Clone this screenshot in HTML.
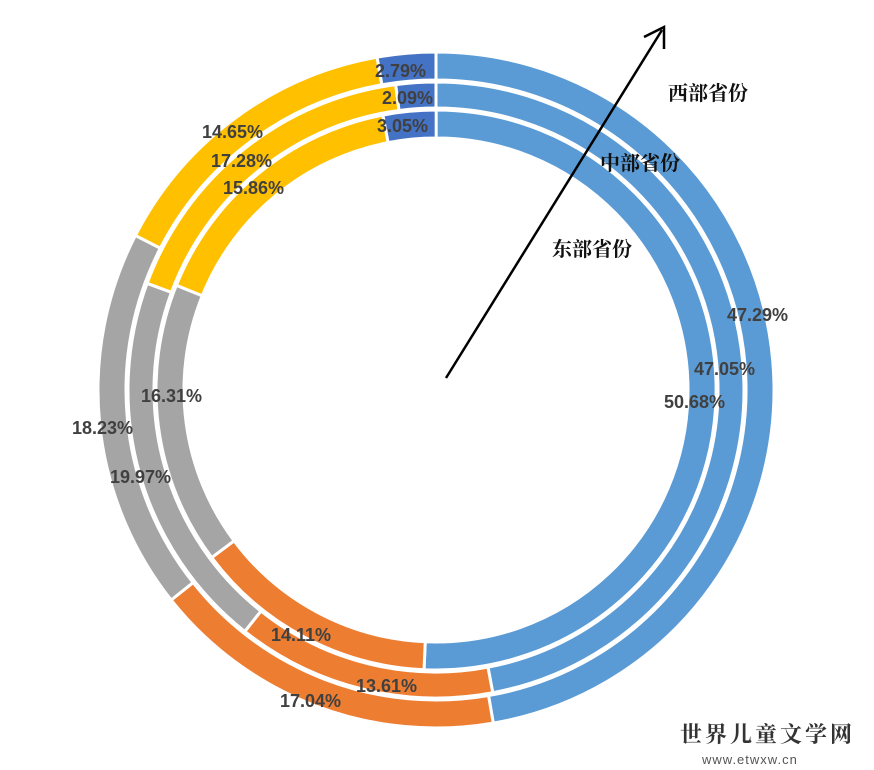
<!DOCTYPE html>
<html><head><meta charset="utf-8"><style>
html,body{margin:0;padding:0;background:#fff;}
svg{display:block}
.l{font-family:"Liberation Sans","DejaVu Sans",sans-serif;font-weight:bold;font-size:18px;fill:#404040}
.c{font-family:"Liberation Serif","Noto Serif CJK SC",serif;font-weight:bold;font-size:20px;fill:#111}
</style></head><body>
<svg id="s" width="874" height="770" viewBox="0 0 874 770" xmlns="http://www.w3.org/2000/svg">
<g id="rings"></g>
<line x1="446" y1="378" x2="662" y2="30" stroke="#000" stroke-width="2.5"/>
<polyline points="644,37 664,27 664,49" fill="none" stroke="#000" stroke-width="2.5"/>
<text class="c" x="668" y="100">西部省份</text>
<text class="c" x="600" y="170">中部省份</text>
<text class="c" x="552" y="256">东部省份</text>
<text class="l" x="375" y="77">2.79%</text>
<text class="l" x="382" y="104">2.09%</text>
<text class="l" x="377" y="132">3.05%</text>
<text class="l" x="202" y="138">14.65%</text>
<text class="l" x="211" y="167">17.28%</text>
<text class="l" x="223" y="194">15.86%</text>
<text class="l" x="727" y="321">47.29%</text>
<text class="l" x="694" y="375">47.05%</text>
<text class="l" x="664" y="408">50.68%</text>
<text class="l" x="141" y="402">16.31%</text>
<text class="l" x="72" y="434">18.23%</text>
<text class="l" x="110" y="483">19.97%</text>
<text class="l" x="271" y="641">14.11%</text>
<text class="l" x="356" y="692">13.61%</text>
<text class="l" x="280" y="707">17.04%</text>
<text x="680" y="742" font-family="'Noto Serif CJK SC',serif" font-size="22" font-weight="bold" fill="#333" letter-spacing="3">世界儿童文学网</text>
<text x="702" y="764" font-family="'Liberation Sans',sans-serif" font-size="13" fill="#555" letter-spacing="1">www.etwxw.cn</text>
</svg>
<script>
var cx=436,cy=390;
var rings=[[310,338,[47.29,17.04,18.23,14.65,2.79]],[282,308,[47.05,13.61,19.97,17.28,2.09]],[252,280,[50.68,14.11,16.31,15.86,3.05]]];
var cols=["#5B9BD5","#ED7D31","#A5A5A5","#FFC000","#4472C4"];
var g=document.getElementById("rings"),h="";
function pt(r,a){a=a*Math.PI*2/100;return (cx+r*Math.sin(a)).toFixed(2)+","+(cy-r*Math.cos(a)).toFixed(2);}
rings.forEach(function(R){var a=0;R[2].forEach(function(v,i){var b=a+v;var lg=v>50?1:0;
h+='<path d="M'+pt(R[1],a)+' A'+R[1]+','+R[1]+' 0 '+lg+' 1 '+pt(R[1],b)+' L'+pt(R[0],b)+' A'+R[0]+','+R[0]+' 0 '+lg+' 0 '+pt(R[0],a)+' Z" fill="'+cols[i]+'" stroke="#fff" stroke-width="3"/>';a=b;});});
g.innerHTML=h;
</script>
</body></html>
